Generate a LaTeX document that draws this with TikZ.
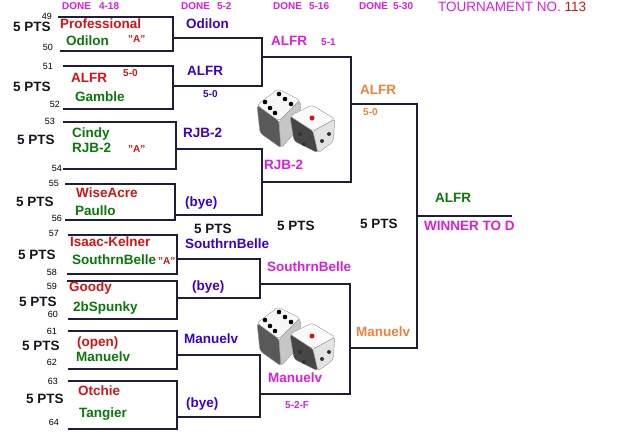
\documentclass[tikz,border=0pt]{standalone}
\usepackage{fontspec}
\setmainfont{Liberation Sans}
\begin{document}
\begin{tikzpicture}[x=1pt,y=-1pt,
    nm/.style={anchor=west,inner sep=0pt,font=\fontsize{13.5}{16}\selectfont\bfseries,text height=9.7pt,text depth=0pt},
    sm/.style={anchor=west,inner sep=0pt,font=\fontsize{10}{12}\selectfont\bfseries,text height=7.2pt,text depth=0pt},
    num/.style={inner sep=0pt,font=\fontsize{9}{11}\selectfont,text height=6.4pt,text depth=0pt},
    bline/.style={line width=2.6pt,draw=r30g30b60},
    face/.style={draw=r150g150b150,line width=0.4pt,rounded corners=3pt}]
% \clip (0,0) rectangle (640,440);
\useasboundingbox (0,0) rectangle (640,440);

% Changing colors
\definecolor{r30g30b60}{RGB}{30,30,60}%
\definecolor{r150g150b150}{RGB}{150,150,150}%
\definecolor{r210g20b20}{RGB}{210,20,20}%
\definecolor{r10g120b10}{RGB}{10,120,10}%
\definecolor{r60g0b200}{RGB}{60,0,200}%
\definecolor{r220g30b220}{RGB}{220,30,220}%
\definecolor{r235g130b60}{RGB}{235,130,60}%
\definecolor{r20g20b30}{RGB}{20,20,30}%

% Drawing dice
\foreach \dy in {0,218} {
\begin{scope}[shift={(0,\dy)}]
  \draw [face, fill=gray!70!black] (257,105) -- (279,121) -- (281,148) -- (260,133) -- cycle;%
  \draw [face, fill=gray!45] (279,121) -- (300,100) -- (302,125) -- (281,148) -- cycle;%
  \draw [face, fill=gray!6] (257,105) -- (278,89) -- (300,100) -- (279,121) -- cycle;%
  \foreach \p in {(265,102),(270,108),(275,113),(279,94),(285,99),(291,104)}
    \fill [black] \p circle (2.3);%
  \draw [face, fill=gray!55!black] (290,116) -- (313,131) -- (318,153) -- (294,141) -- cycle;%
  \draw [face, fill=gray!22] (313,131) -- (335,119) -- (333,142) -- (318,153) -- cycle;%
  \draw [face, fill=gray!4] (290,116) -- (312,105) -- (335,119) -- (313,131) -- cycle;%
  \fill [r210g20b20] (312,118) circle (2.5);%
  \foreach \p in {(300,134),(304,144),(322,141),(329,134)}
    \fill [black!80] \p circle (2);%
\end{scope}}

% Drawing bracket round 1
\draw [bline] (58,17) -- (173,17) -- (173,51) -- (60,51);%
\draw [bline] (63,66) -- (173,66) -- (173,109) -- (63,109);%
\draw [bline] (63,122) -- (176,122) -- (176,169) -- (63,169);%
\draw [bline] (65,184) -- (175,184) -- (175,220) -- (65,220);%
\draw [bline] (68,235) -- (177,235) -- (177,274) -- (67,274);%
\draw [bline] (67,281) -- (177,281) -- (177,319) -- (68,319);%
\draw [bline] (68,331) -- (177,331) -- (177,369) -- (68,369);%
\draw [bline] (68,381) -- (177,381) -- (177,429) -- (68,429);%

% Drawing bracket round 2
\draw [bline] (173,38) -- (262,38) -- (262,86) -- (173,86);%
\draw [bline] (176,149) -- (262,149) -- (262,215) -- (175,215);%
\draw [bline] (177,259) -- (260,259) -- (260,298) -- (177,298);%
\draw [bline] (177,355) -- (260,355) -- (260,417) -- (177,417);%

% Drawing bracket round 3
\draw [bline] (262,57) -- (351,57) -- (351,182) -- (262,182);%
\draw [bline] (260,284) -- (350,284) -- (350,394) -- (260,394);%

% Drawing bracket round 4 and final
\draw [bline] (351,104) -- (417,104) -- (417,348) -- (350,348);%
\draw [bline] (417,216) -- (512,216);%

% Marking headers
\draw (62,6) node [sm, text=r220g30b220] (hd1) {DONE\hspace{8pt}4-18};%
\draw (181,6) node [sm, text=r220g30b220] (hd2) {DONE\hspace{7pt}5-2};%
\draw (273,6) node [sm, text=r220g30b220] (hd3) {DONE\hspace{7pt}5-16};%
\draw (359,6) node [sm, text=r220g30b220] (hd4) {DONE\hspace{5pt}5-30};%
\draw (438,7) node [nm, font=\fontsize{13.5}{16}\selectfont, text=r220g30b220] (tour) {TOURNAMENT NO. \textcolor{r210g20b20}{113}};%

% Marking match numbers
\draw (47,16) node [num] (n49) {49};%
\draw (48,47) node [num] (n50) {50};%
\draw (48,66) node [num] (n51) {51};%
\draw (55,104) node [num] (n52) {52};%
\draw (50,121) node [num] (n53) {53};%
\draw (57,168) node [num] (n54) {54};%
\draw (54,183) node [num] (n55) {55};%
\draw (57,218) node [num] (n56) {56};%
\draw (54,233) node [num] (n57) {57};%
\draw (52,272) node [num] (n58) {58};%
\draw (52,286) node [num] (n59) {59};%
\draw (53,314) node [num] (n60) {60};%
\draw (52,331) node [num] (n61) {61};%
\draw (52,362) node [num] (n62) {62};%
\draw (53,381) node [num] (n63) {63};%
\draw (54,422) node [num] (n64) {64};%

% Marking points
\draw (13,27) node [nm, text=r20g20b30] (pts1) {5 PTS};%
\draw (13,87) node [nm, text=r20g20b30] (pts2) {5 PTS};%
\draw (17,140) node [nm, text=r20g20b30] (pts3) {5 PTS};%
\draw (16,202) node [nm, text=r20g20b30] (pts4) {5 PTS};%
\draw (18,255) node [nm, text=r20g20b30] (pts5) {5 PTS};%
\draw (19,302) node [nm, text=r20g20b30] (pts6) {5 PTS};%
\draw (22,346) node [nm, text=r20g20b30] (pts7) {5 PTS};%
\draw (26,399) node [nm, text=r20g20b30] (pts8) {5 PTS};%
\draw (194,229) node [nm, text=r20g20b30] (ptsr2) {5 PTS};%
\draw (277,226) node [nm, text=r20g20b30] (ptsr3) {5 PTS};%
\draw (360,224) node [nm, text=r20g20b30] (ptsr4) {5 PTS};%

% Marking round 1 players
\draw (60,24) node [nm, text=r210g20b20] (prof) {Professional};%
\draw (66,41) node [nm, text=r10g120b10] (odil) {Odilon};%
\draw (128,39) node [sm, text=r210g20b20] (aa1) {"A"};%
\draw (71,78) node [nm, text=r210g20b20] (alfr) {ALFR};%
\draw (123,73) node [sm, text=r210g20b20] (sc1) {5-0};%
\draw (75,97) node [nm, text=r10g120b10] (gamb) {Gamble};%
\draw (72,133) node [nm, text=r10g120b10] (cind) {Cindy};%
\draw (72,148) node [nm, text=r10g120b10] (rjb) {RJB-2};%
\draw (128,149) node [sm, text=r210g20b20] (aa2) {"A"};%
\draw (76,193) node [nm, text=r210g20b20] (wise) {WiseAcre};%
\draw (75,211) node [nm, text=r10g120b10] (paul) {Paullo};%
\draw (70,242) node [nm, text=r210g20b20] (isaa) {Isaac-Kelner};%
\draw (72,260) node [nm, text=r10g120b10] (sbel) {SouthrnBelle};%
\draw (158,261) node [sm, text=r210g20b20] (aa3) {"A"};%
\draw (69,287) node [nm, text=r210g20b20] (good) {Goody};%
\draw (73,307) node [nm, text=r10g120b10] (spun) {2bSpunky};%
\draw (77,342) node [nm, text=r210g20b20] (open) {(open)};%
\draw (76,357) node [nm, text=r10g120b10] (manu) {Manuelv};%
\draw (78,391) node [nm, text=r210g20b20] (otch) {Otchie};%
\draw (79,413) node [nm, text=r10g120b10] (tang) {Tangier};%

% Marking round 2 winners
\draw (186,24) node [nm, text=r60g0b200] (w1) {Odilon};%
\draw (187,71) node [nm, text=r60g0b200] (w2) {ALFR};%
\draw (203,94) node [sm, text=r60g0b200] (sc2) {5-0};%
\draw (183,133) node [nm, text=r60g0b200] (w3) {RJB-2};%
\draw (185,202) node [nm, text=r60g0b200] (w4) {(bye)};%
\draw (185,244) node [nm, text=r60g0b200] (w5) {SouthrnBelle};%
\draw (192,286) node [nm, text=r60g0b200] (w6) {(bye)};%
\draw (184,339) node [nm, text=r60g0b200] (w7) {Manuelv};%
\draw (186,403) node [nm, text=r60g0b200] (w8) {(bye)};%

% Marking round 3 winners
\draw (271,41) node [nm, text=r220g30b220] (x1) {ALFR};%
\draw (321,42) node [sm, text=r220g30b220] (sc3) {5-1};%
\draw (264,165) node [nm, text=r220g30b220] (x2) {RJB-2};%
\draw (267,267) node [nm, text=r220g30b220] (x3) {SouthrnBelle};%
\draw (268,378) node [nm, text=r220g30b220] (x4) {Manuelv};%
\draw (285,405) node [sm, text=r220g30b220] (sc4) {5-2-F};%

% Marking round 4 winners
\draw (360,90) node [nm, text=r235g130b60] (y1) {ALFR};%
\draw (363,112) node [sm, text=r235g130b60] (sc5) {5-0};%
\draw (356,332) node [nm, text=r235g130b60] (y2) {Manuelv};%

% Marking final
\draw (435,198) node [nm, text=r10g120b10] (champ) {ALFR};%
\draw (424,226) node [nm, text=r220g30b220] (wintod) {WINNER TO D};%
\end{tikzpicture}
\end{document}
